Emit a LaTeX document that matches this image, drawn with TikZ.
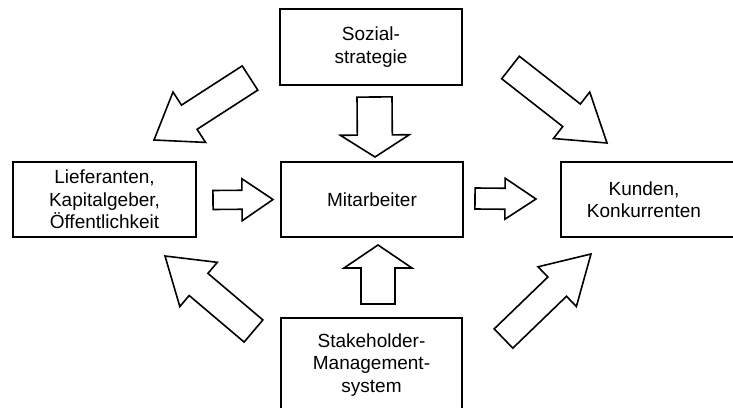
\documentclass[tikz,border=0pt]{standalone}
\usepackage{fontspec}
\setmainfont{Liberation Sans}
\usetikzlibrary{calc}
\tikzset{
  box/.style={draw, line width=1.6pt, align=center, inner sep=0pt,
    font=\fontsize{19}{22.5}\selectfont},
  lbl/.style={align=center, inner sep=0pt, font=\fontsize{19}{22.5}\selectfont},
  barrow/.style={draw, line width=1.6pt, line join=miter, fill=white},
}
\newcommand{\blockarrow}[5]{%
  \coordinate (hb) at ($(#2)!#5!(#1)$);
  \draw[barrow] ($(#1)!#3!90:(#2)$) -- ($(hb)!#3!-90:(#1)$) -- ($(hb)!#4!-90:(#1)$)
    -- (#2) -- ($(hb)!#4!90:(#1)$) -- ($(hb)!#3!90:(#1)$) -- ($(#1)!#3!-90:(#2)$) -- cycle;}
\begin{document}
\begin{tikzpicture}[x=1pt,y=-1pt]
  \useasboundingbox (0,0) rectangle (733,407);
  \fill[white] (0,0) rectangle (733,407);
  \clip (0,0) rectangle (733,407);
  % boxes
  \node[box, minimum width=182pt, minimum height=76pt] (soz) at (371,47) {Sozial-\\strategie};
  \node[box, minimum width=182pt, minimum height=75pt] (mit) at (372,199.5) {Mitarbeiter};
  \node[box, minimum width=183pt, minimum height=75pt] (lief) at (104.5,199.5) {Lieferanten,\\Kapitalgeber,\\Öffentlichkeit};
  \node[box, minimum width=174pt, minimum height=75pt] (kun) at (648,199.5) {};
  \node[lbl] (kuntext) at (644,199.5) {Kunden,\\Konkurrenten};
  \node[box, minimum width=181pt, minimum height=94pt] (stake) at (371.5,365) {Stakeholder-\\Management-\\system};
  % arrow ends
  \coordinate (a1t) at (374.5,97);  \coordinate (a1p) at (375,157);
  \coordinate (a2t) at (378,304);   \coordinate (a2p) at (378,245);
  \coordinate (a3t) at (213,200);   \coordinate (a3p) at (273,199.5);
  \coordinate (a4t) at (475,198.5); \coordinate (a4p) at (536,199);
  \coordinate (a5t) at (250,78);    \coordinate (a5p) at (154,140);
  \coordinate (a6t) at (510.5,67.5);\coordinate (a6p) at (607,143);
  \coordinate (a7t) at (253.5,331); \coordinate (a7p) at (165,256);
  \coordinate (a8t) at (503.5,338.5);\coordinate (a8p) at (591,254);
  % block arrows
  \blockarrow{a1t}{a1p}{17.5pt}{34.5pt}{22pt}
  \blockarrow{a2t}{a2p}{17pt}{34pt}{23pt}
  \blockarrow{a3t}{a3p}{9.5pt}{21pt}{31pt}
  \blockarrow{a4t}{a4p}{10.5pt}{20.5pt}{31pt}
  \blockarrow{a5t}{a5p}{14.4pt}{30pt}{42pt}
  \blockarrow{a6t}{a6p}{14.3pt}{29.5pt}{45pt}
  \blockarrow{a7t}{a7p}{14.5pt}{29pt}{44pt}
  \blockarrow{a8t}{a8p}{13.4pt}{27.6pt}{47pt}
\end{tikzpicture}
\end{document}
